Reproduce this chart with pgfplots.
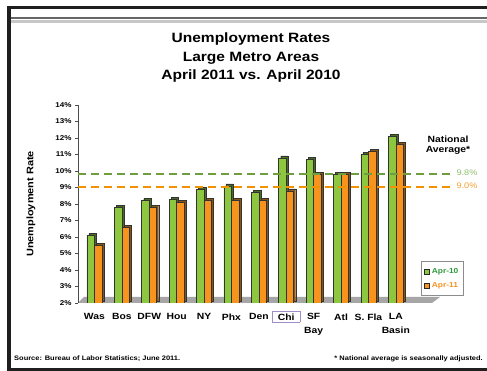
\documentclass[border=0pt]{standalone}
\usepackage{pgfplots}
\usepackage{pgfplotstable}
\pgfplotsset{compat=1.18}
\usepackage{fontspec}
\setmainfont{Liberation Sans}[FakeStretch=1.15]
\definecolor{barG}{HTML}{8DC63F}
\definecolor{barO}{HTML}{F7941E}
\definecolor{sideG}{HTML}{4A6B1F}
\definecolor{sideO}{HTML}{8A5412}
\definecolor{lineGreen}{HTML}{6E9E3F}
\definecolor{lineOrange}{HTML}{F39200}
\definecolor{lblG}{HTML}{8FBF6A}
\definecolor{lblO}{HTML}{F5A030}
\definecolor{legG}{HTML}{2E9A3A}
\definecolor{chibox}{HTML}{A08CC8}
\pgfplotstableread{
x apr10 apr11
0 6.1 5.5
1 7.8 6.6
2 8.2 7.8
3 8.3 8.1
4 8.9 8.2
5 9.1 8.2
6 8.7 8.2
7 10.8 8.8
8 10.7 9.8
9 9.8 9.8
10 11.0 11.2
11 12.1 11.6
}\datatable
\begin{document}
\begin{tikzpicture}[x=1pt,y=1pt]
\useasboundingbox (0,0) rectangle (487,371);
\fill[white] (0,0) rectangle (487,371);
% frame
\fill[black!88] (7,0) rectangle (11,365);
\fill[black!88] (7,362) rectangle (487,365);
\fill[black!88] (7,0) rectangle (487,3);
\fill[black!60] (11,352) rectangle (487,354);
\fill[black!22] (11,348) rectangle (487,351);
% floor
\fill[black!35] (78,68) -- (432,68) -- (440,74) -- (84,74) -- cycle;
% title
\node[align=center, font=\bfseries\fontsize{13.5}{18.5}\selectfont] at (251,313) {Unemployment Rates\\Large Metro Areas\\April 2011 vs. April 2010};
\begin{axis}[
  at={(78pt,68pt)}, anchor=south west,
  scale only axis, width=372.64pt, height=198pt,
  xmin=-0.6, xmax=13, ymin=2, ymax=14,
  enlargelimits=false,
  axis x line*=bottom, axis y line*=left,
  x axis line style={draw=none},
  y axis line style={-, draw=black!70, line width=0.7pt},
  xtick={0,...,11},
  xticklabels={Was,Bos,DFW,Hou,NY,Phx,Den,{\raisebox{0pt}[6.5pt][2pt]{\setlength{\fboxsep}{2pt}\setlength{\fboxrule}{0.6pt}\fcolorbox{chibox}{white}{\hspace{3pt}Chi\hspace{3pt}}}},SF\\Bay,Atl,S. Fla,LA\\Basin},
  xtick style={draw=none},
  xticklabel style={font=\bfseries\fontsize{9}{13.5}\selectfont, align=center, yshift=-4pt},
  ytick={2,...,14},
  yticklabels={2\%,3\%,4\%,5\%,6\%,7\%,8\%,9\%,10\%,11\%,12\%,13\%,14\%},
  yticklabel style={font=\bfseries\fontsize{7}{8}\selectfont},
  ytick style={draw=black!70, line width=0.6pt},
  tick align=outside, major tick length=3pt,
  legend style={at={(0.9205,0.035)}, anchor=south west, draw=black!45, line width=0.6pt,
    font=\bfseries\fontsize{7.3}{8}\selectfont, inner xsep=3pt, inner ysep=5pt, row sep=3pt},
  legend cell align=left,
]
\addplot[forget plot, ybar, bar width=7.5pt, bar shift=-1.75pt, yshift=2pt, fill=sideG, draw=black!80, line width=0.4pt] table[x=x,y=apr10] {\datatable};
\addplot[ybar, bar width=7.5pt, bar shift=-3.75pt, fill=barG, draw=black!80, line width=0.5pt,
  legend image code/.code={\draw[fill=barG, draw=black!85, line width=0.5pt] (0pt,-2.5pt) rectangle (5pt,2.5pt);}] table[x=x,y=apr10] {\datatable};
\addlegendentry{\textcolor{legG}{Apr-10}}
\addplot[forget plot, ybar, bar width=7.5pt, bar shift=5.75pt, yshift=2pt, fill=sideO, draw=black!80, line width=0.4pt] table[x=x,y=apr11] {\datatable};
\addplot[ybar, bar width=7.5pt, bar shift=3.75pt, fill=barO, draw=black!80, line width=0.5pt,
  legend image code/.code={\draw[fill=barO, draw=black!85, line width=0.5pt] (0pt,-2.5pt) rectangle (5pt,2.5pt);}] table[x=x,y=apr11] {\datatable};
\addlegendentry{\textcolor{barO}{Apr-11}}
\addplot[forget plot, color=lineGreen, line width=1.6pt, dash pattern=on 8pt off 5pt] coordinates {(-0.6,9.8) (13,9.8)};
\addplot[forget plot, color=lineOrange, line width=2pt, dash pattern=on 8pt off 5pt] coordinates {(-0.6,9.0) (13,9.0)};
\end{axis}
% texts
\node[rotate=90, font=\bfseries\fontsize{9.5}{11}\selectfont] at (31,167) {Unemployment Rate};
\node[font=\bfseries\fontsize{9}{11}\selectfont, align=center] at (448,226) {National\\[-1pt]Average*};
\node[font=\fontsize{8}{9}\selectfont, text=lblG] at (467,198) {9.8\%};
\node[font=\fontsize{8}{9}\selectfont, text=lblO] at (467,185) {9.0\%};
\node[anchor=west, font=\bfseries\fontsize{6.5}{8}\selectfont, inner sep=0pt] at (14,12) {Source: Bureau of Labor Statistics; June 2011.};
\node[anchor=east, font=\bfseries\fontsize{6.5}{8}\selectfont, inner sep=0pt] at (483,12) {* National average is seasonally adjusted.};
\end{tikzpicture}
\end{document}
